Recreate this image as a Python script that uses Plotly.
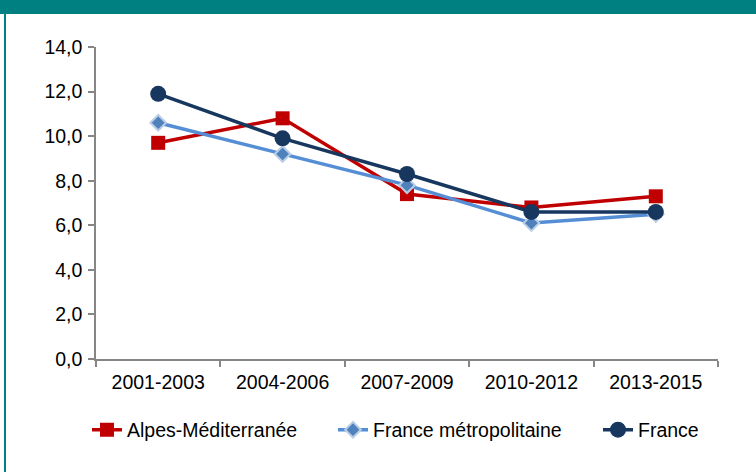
import plotly.graph_objects as go

periods = ["2001-2003", "2004-2006", "2007-2009", "2010-2012", "2013-2015"]
alpes_med = [9.7, 10.8, 7.4, 6.8, 7.3]
france_metro = [10.6, 9.2, 7.8, 6.1, 6.5]
france = [11.9, 9.9, 8.3, 6.6, 6.6]
y_ticks = [0, 2, 4, 6, 8, 10, 12, 14]

W, H = 756, 472
L, R, T, B = 96, 38, 47, 113
pw, ph = W - L - R, H - T - B

def px_x(p):
    return (p - L) / pw

def px_y(p):
    return (H - B - p) / ph

axis_font = dict(family="Liberation Sans, Arial, sans-serif", size=19.5, color="#000000")

fig = go.Figure()
fig.add_trace(go.Scatter(
    x=periods, y=alpes_med, name="Alpes-Méditerranée", mode="lines+markers", legend="legend",
    line=dict(color="#C00000", width=3.5),
    marker=dict(symbol="square", size=14, color="#C00000", line=dict(color="#C00000", width=0)),
))
fig.add_trace(go.Scatter(
    x=periods, y=france_metro, name="France métropolitaine", mode="lines+markers", legend="legend2",
    line=dict(color="#558ED5", width=3.5),
    marker=dict(symbol="diamond", size=12, color="#4F81BD", line=dict(color="#B9CDE5", width=2)),
))
fig.add_trace(go.Scatter(
    x=periods, y=france, name="France", mode="lines+markers", legend="legend3",
    line=dict(color="#17375E", width=3.5),
    marker=dict(symbol="circle", size=16, color="#17375E"),
))

def leg(xp):
    return dict(orientation="h", x=px_x(xp), xanchor="left", y=px_y(430), yanchor="middle",
                font=axis_font, bgcolor="rgba(0,0,0,0)", itemwidth=30)

fig.update_layout(
    width=W, height=H,
    margin=dict(l=L, r=R, t=T, b=B, pad=0),
    paper_bgcolor="white", plot_bgcolor="white",
    separators=", ",
    font=axis_font,
    showlegend=True,
    legend=leg(87), legend2=leg(333), legend3=leg(598),
    xaxis=dict(
        type="category", range=[-0.5, 4.5], showgrid=False, showline=True, linecolor="#868686",
        linewidth=1.5, ticks="outside", ticklen=6, tickcolor="#868686", tickwidth=1.5,
        tickson="boundaries", tickfont=axis_font, zeroline=False, ticklabelstandoff=5,
    ),
    yaxis=dict(
        range=[0, 14], tickvals=y_ticks, tickformat=".1f", showgrid=False, showline=True,
        linecolor="#868686", linewidth=1.5, ticks="outside", ticklen=6, tickcolor="#868686",
        tickwidth=1.5, tickfont=axis_font, zeroline=False, ticklabelstandoff=2,
    ),
    shapes=[
        dict(type="rect", xref="paper", yref="paper", x0=px_x(0), x1=px_x(W), y0=px_y(14), y1=px_y(0),
             fillcolor="#008080", line=dict(width=0), layer="above"),
        dict(type="rect", xref="paper", yref="paper", x0=px_x(4), x1=px_x(6), y0=px_y(H), y1=px_y(0),
             fillcolor="#008080", line=dict(width=0), layer="above"),
    ],
)

fig.write_html("out.html", config={"displayModeBar": False},
               post_script="document.body.style.margin='0';")
